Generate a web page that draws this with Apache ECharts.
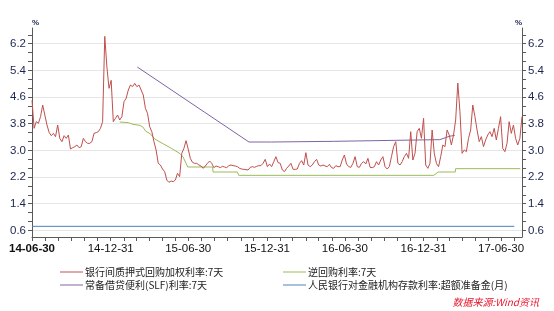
<!DOCTYPE html>
<html><head><meta charset="utf-8">
<script src="https://cdn.jsdelivr.net/npm/echarts@6/dist/echarts.min.js"></script>
<style>html,body{margin:0;padding:0;background:#fff}#c{width:554px;height:311px}</style>
</head><body><div id="c"></div>
<script>
// ---- data ----
const seriesNames = ['银行间质押式回购加权利率:7天', '逆回购利率:7天', '常备借贷便利(SLF)利率:7天', '人民银行对金融机构存款利率:超额准备金(月)'];
const xLabelDates = ['2014-06-30','2014-12-31','2015-06-30','2015-12-31','2016-06-30','2016-12-31','2017-06-30'];
const yLabelValues = [0.6, 1.4, 2.2, 3.0, 3.8, 4.6, 5.4, 6.2];
const xStart = '2014-06-30';
const xEnd = '2017-08-18';

// interbank repo 7d, sampled every 5 calendar days from 2014-06-30
const repoStepDays = 5;
const repoValues = [
 4.50,3.66,3.86,3.81,4.01,4.36,4.06,3.76,3.54,3.44,
 3.51,3.41,3.76,3.36,3.26,3.44,3.36,3.46,3.04,3.08,
 3.11,3.16,3.08,3.11,3.36,3.26,3.21,3.21,3.26,3.51,
 3.53,3.56,3.66,3.86,6.42,5.50,4.86,5.10,3.86,3.96,
 4.06,3.91,4.01,4.46,4.56,4.81,4.96,4.91,5.01,4.91,
 4.96,4.81,4.66,4.26,4.11,3.71,3.56,3.26,3.01,2.61,
 2.56,2.44,2.36,2.11,2.04,2.08,2.06,2.11,2.31,2.21,
 2.91,3.06,3.29,3.04,2.76,2.64,2.61,2.61,2.56,2.53,
 2.46,2.53,2.61,2.68,2.61,2.48,2.53,2.51,2.48,2.52,
 2.50,2.48,2.54,2.56,2.54,2.53,2.51,2.46,2.44,2.43,
 2.42,2.41,2.49,2.51,2.49,2.52,2.54,2.54,2.61,2.73,
 2.51,2.59,2.51,2.66,2.81,2.63,2.61,2.41,2.36,2.46,
 2.53,2.61,2.43,2.43,2.44,2.61,2.69,2.56,2.93,2.56,
 2.51,2.56,2.66,2.73,2.56,2.53,2.56,2.53,2.51,2.58,
 2.48,2.46,2.54,2.51,2.51,2.71,2.86,2.59,2.51,2.49,
 2.61,2.81,2.51,2.49,2.61,2.66,2.59,2.76,2.49,2.48,
 2.51,2.66,2.56,2.71,2.81,2.51,2.44,2.51,2.81,3.11,
 3.26,2.61,2.56,2.66,2.81,2.91,2.76,3.56,2.71,2.91,
 3.56,3.66,3.36,3.96,2.56,2.46,2.61,3.61,2.91,2.61,
 2.51,2.81,3.16,3.11,3.61,3.46,3.16,3.46,3.91,5.02,
 4.16,2.91,3.01,2.96,3.36,3.61,4.36,4.01,3.61,3.26,
 3.41,3.11,3.31,3.46,3.56,3.41,3.66,3.31,3.66,4.01,
 3.06,2.96,3.21,3.86,3.51,3.76,3.36,3.16,3.36,4.01
];

// reverse repo 7d
const rrDates = ['2015-01-21','2015-02-10','2015-02-21','2015-03-09','2015-03-16','2015-03-23','2015-04-02','2015-04-13','2015-05-02','2015-05-23','2015-06-11','2015-06-18','2015-06-29','2015-08-26','2015-08-27','2015-10-23','2015-10-26','2017-01-24','2017-02-03','2017-03-15','2017-03-16','2017-08-14'];
const rrValues = [3.85,3.83,3.78,3.75,3.70,3.57,3.50,3.34,3.20,3.05,2.90,2.80,2.50,2.50,2.35,2.35,2.25,2.25,2.35,2.35,2.45,2.45];

// SLF 7d
const slfDates = ['2015-03-03','2015-11-19','2016-01-11','2016-01-12','2016-06-03','2016-06-04','2016-10-27','2016-10-28','2017-02-07','2017-03-01','2017-03-14'];
const slfValues = [5.50,3.25,3.25,3.27,3.27,3.29,3.30,3.32,3.32,3.42,3.45];

// excess reserve rate
const ierDates = ['2014-06-30','2017-07-31'];
const ierValues = [0.72,0.72];

// ---- helpers ----
function pad(n){return (n<10?'0':'')+n;}
function ts(s){const p=s.split('-').map(Number);return Date.UTC(p[0],p[1]-1,p[2]);}
const DAY = 86400000;
function zip(ds, vs){return ds.map((d,i)=>[ts(d), vs[i]]);}

const repoData = repoValues.map((v,i)=>[ts(xStart) + i*repoStepDays*DAY, v]);

// month-end ticks
const monthEnds = [];
for (let y=2014, m=6; y<2017 || (y===2017 && m<=7); ) {
  monthEnds.push(Date.UTC(y, m, 0));
  m++; if (m>12){m=1;y++;}
}
const yTicks = [];
for (let k=0;k<=22;k++) yTicks.push(+(0.6 + k*0.8/3).toFixed(4));

const axisColor = '#5a5a5a';
const labelFont = "'Liberation Sans Narrow','Liberation Sans',Arial,sans-serif";

function yAxisCfg(pos){
  return {
    type:'value', position:pos, min:0.4, max:6.67,
    name:'%', nameLocation:'end', nameGap:1,
    nameTextStyle:{fontSize:8, fontWeight:'bold', color:'#1c2550', align: pos==='left'?'left':'right', padding:[0,0,0,0]},
    axisLine:{show:true, lineStyle:{color:axisColor, width:1}},
    axisTick:{show:true, length:4, customValues:yTicks, lineStyle:{color:axisColor}},
    axisLabel:{customValues:yLabelValues, formatter:v=>(+v).toFixed(1), fontSize:11.5, fontFamily:labelFont, color:'#1c2550', margin:6},
    splitLine:{show: pos==='left', lineStyle:{color:['#e6e6e6','rgba(0,0,0,0)','rgba(0,0,0,0)'], width:1}}
  };
}

const legendText = {fontSize:10, fontFamily:"'Noto Sans CJK SC',sans-serif", color:'#222', padding:[0,0,0,-3]};

const chart = echarts.init(document.getElementById('c'), null, {renderer:'canvas'});
chart.setOption({
  animation:false,
  backgroundColor:'#ffffff',
  grid:{left:32, right:32, top:28, bottom:74, containLabel:false},
  xAxis:{
    type:'value', min:ts(xStart), max:ts(xEnd),
    axisLine:{show:true, lineStyle:{color:axisColor}},
    axisTick:{show:true, length:4, customValues:monthEnds, lineStyle:{color:axisColor}},
    axisLabel:{customValues:xLabelDates.map(ts), fontSize:11.5, fontFamily:labelFont, color:'#111', margin:6,
      formatter:function(v){
        const d=new Date(+v);
        const s=String(d.getUTCFullYear()).slice(2)+'-'+pad(d.getUTCMonth()+1)+'-'+pad(d.getUTCDate());
        return (+v)===ts(xStart) ? '{b|'+s+'}' : s;
      },
      rich:{b:{fontWeight:'bold', fontSize:11.5, fontFamily:labelFont, color:'#111'}}
    },
    splitLine:{show:false}
  },
  yAxis:[yAxisCfg('left'), yAxisCfg('right')],
  legend:[
    {data:[seriesNames[0], seriesNames[2]], orient:'vertical', left:55, top:262, icon:'rect', itemWidth:23, itemHeight:1, itemGap:3, textStyle:legendText},
    {data:[seriesNames[1], seriesNames[3]], orient:'vertical', left:278, top:262, icon:'rect', itemWidth:23, itemHeight:1, itemGap:3, textStyle:legendText}
  ],
  series:[
    {name:seriesNames[0], type:'line', data:repoData, symbol:'none', lineStyle:{color:'#c0504d', width:1}, itemStyle:{color:'#c0504d'}, z:5},
    {name:seriesNames[1], type:'line', data:zip(rrDates, rrValues), symbol:'none', lineStyle:{color:'#9bbb59', width:1}, itemStyle:{color:'#9bbb59'}, z:3},
    {name:seriesNames[2], type:'line', data:zip(slfDates, slfValues), symbol:'none', lineStyle:{color:'#8064a2', width:1}, itemStyle:{color:'#8064a2'}, z:3},
    {name:seriesNames[3], type:'line', data:zip(ierDates, ierValues), symbol:'none', lineStyle:{color:'#4f81bd', width:1}, itemStyle:{color:'#4f81bd'}, z:3}
  ],
  graphic:[{type:'text', right:15, top:297, style:{text:'数据来源:Wind资讯', fill:'#e8162b', font:"italic 10px 'Noto Sans CJK SC', sans-serif"}}]
});
</script></body></html>
